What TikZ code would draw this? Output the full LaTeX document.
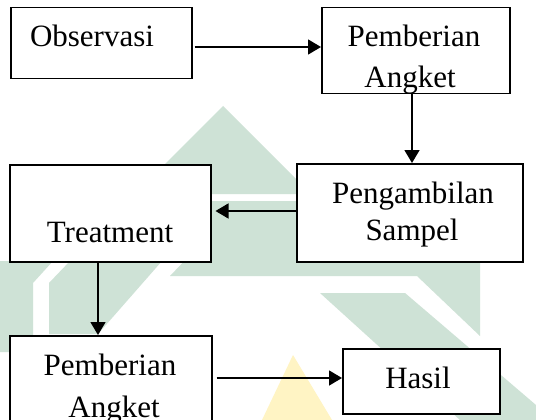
\documentclass[tikz,border=0pt]{standalone}
\usepackage{fontspec}
\setmainfont{Liberation Serif}
\usetikzlibrary{arrows.meta}
\definecolor{wmgreen}{RGB}{206,226,214}
\definecolor{wmyellow}{RGB}{255,244,196}
\tikzset{
  box/.style={draw=black, line width=1.5pt, fill=white, inner sep=0pt, anchor=north west},
  lbl/.style={font=\fontsize{31}{31}\selectfont, inner sep=0pt, anchor=base},
  arr/.style={line width=1.5pt, -{Triangle[length=13pt,width=15pt]}},
  wm/.style={fill=wmgreen, draw=none}
}
\begin{document}
\begin{tikzpicture}[x=1pt,y=-1pt]
\useasboundingbox (0,0) rectangle (536,420);
\fill[white] (0,0) rectangle (536,420);
% watermark
\fill[wm] (223,106) -- (311,194) -- (135,194) -- cycle;
\fill[wm] (130,201) -- (480,201) -- (480,336) -- (417,276) -- (170,276) -- (212,232) -- cycle;
\fill[wm] (320,293) -- (405,293) -- (536,405) -- (536,420) -- (460,420) -- cycle;
\fill[wm] (0,261) -- (53,261) -- (33,283) -- (33,352) -- (0,352) -- cycle;
\fill[wm] (70,261) -- (162,261) -- (98,334) -- (49,334) -- (49,283) -- cycle;
\fill[wmyellow] (293,355) -- (332,420) -- (262,420) -- cycle;
% boxes
\node[box, minimum width=181pt, minimum height=71pt] (obs) at (10,7) {};
\node[box, minimum width=188pt, minimum height=86pt] (pa1) at (321,7) {};
\node[box, minimum width=226pt, minimum height=98pt] (ps) at (296,163) {};
\node[box, minimum width=201pt, minimum height=97pt] (tr) at (9,164) {};
\node[box, minimum width=202pt, minimum height=95pt] (pa2) at (9,335) {};
\node[box, minimum width=157pt, minimum height=65pt] (hs) at (342,348) {};
% labels
\node[lbl] (tobs) at (92,47) {Observasi};
\node[lbl] (tpa1a) at (414,47) {Pemberian};
\node[lbl] (tpa1b) at (410,88) {Angket};
\node[lbl] (tpsa) at (413,203) {Pengambilan};
\node[lbl] (tpsb) at (412,240) {Sampel};
\node[lbl] (ttr) at (110,242) {Treatment};
\node[lbl] (tpa2a) at (110,375) {Pemberian};
\node[lbl] (tpa2b) at (114,417) {Angket};
\node[lbl] (ths) at (418,388) {Hasil};
% connectors
\draw[arr] ([xshift=2pt]obs.east |- 0,47) -- (pa1.west |- 0,47);
\draw[arr] (pa1.south -| 412,0) -- (ps.north -| 412,0);
\draw[arr] (ps.west |- 0,211) -- ([xshift=4pt]tr.east |- 0,211);
\draw[arr] (tr.south -| 98,0) -- (pa2.north -| 98,0);
\draw[arr] ([xshift=4pt]pa2.east |- 0,378) -- (hs.west |- 0,378);
\end{tikzpicture}
\end{document}
